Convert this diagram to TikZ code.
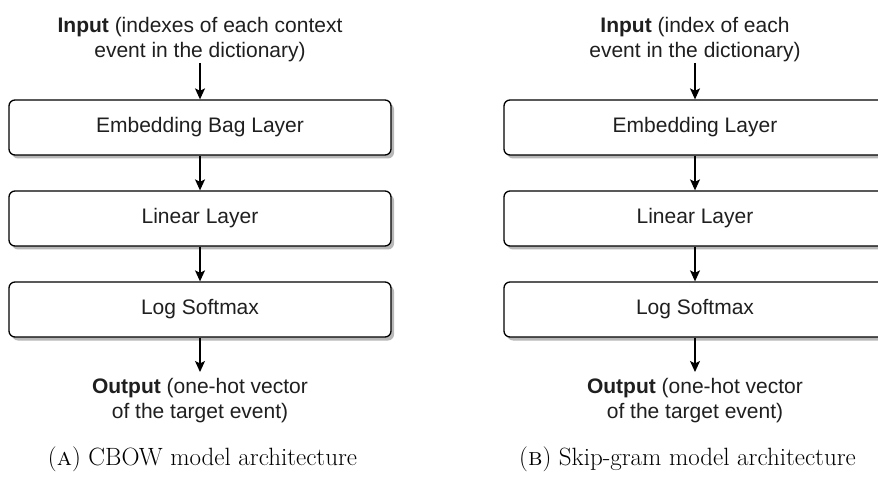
\documentclass[tikz,border=0pt]{standalone}
\usepackage{fontspec}
\newfontfamily\diagfont{Liberation Sans}
\usetikzlibrary{arrows.meta,shadows}

\tikzset{
  layerbox/.style={draw=black, line width=1.3pt, rounded corners=6pt, fill=white,
    minimum width=382pt, minimum height=55pt, inner sep=0pt,
    font=\diagfont\fontsize{21}{25}\selectfont, text=black!88,
    drop shadow={shadow xshift=3pt, shadow yshift=-3.5pt, fill=black!28, opacity=1}},
  iotext/.style={align=center, inner sep=0pt, text=black!88,
    font=\diagfont\fontsize{21}{25}\selectfont},
  flow/.style={draw=black, line width=1.3pt,
    -{Stealth[length=11pt, width=10pt, inset=2.5pt]}},
  caption/.style={inner sep=0pt, anchor=base, font=\fontsize{25}{30}\selectfont}
}

\begin{document}
\begin{tikzpicture}[x=1pt, y=-1pt]
\clip (0,0) rectangle (878,478);
\fill[white] (0,0) rectangle (878,478);

% CBOW network
\node[iotext, anchor=north] (inA) at (200,17)
  {\textbf{Input} (indexes of each context\\event in the dictionary)};
\node[layerbox] (embA) at (200,127.5) {Embedding Bag Layer};
\node[layerbox] (linA) at (200,218.5) {Linear Layer};
\node[layerbox] (smA)  at (200,309.5) {Log Softmax};
\node[iotext, anchor=north] (outA) at (200,378)
  {\textbf{Output} (one-hot vector\\of the target event)};
\draw[flow] (inA.south) ++(0,1) -- (embA.north);
\draw[flow] (embA) -- (linA);
\draw[flow] (linA) -- (smA);
\draw[flow, shorten >=6pt] (smA) -- (outA);
\node[caption] (capA) at (202.5,465) {(\textsc{a}) CBOW model architecture};

% Skip-gram network
\node[iotext, anchor=north] (inB) at (695,17)
  {\textbf{Input} (index of each\\event in the dictionary)};
\node[layerbox] (embB) at (695,127.5) {Embedding Layer};
\node[layerbox] (linB) at (695,218.5) {Linear Layer};
\node[layerbox] (smB)  at (695,309.5) {Log Softmax};
\node[iotext, anchor=north] (outB) at (695,378)
  {\textbf{Output} (one-hot vector\\of the target event)};
\draw[flow] (inB.south) ++(0,1) -- (embB.north);
\draw[flow] (embB) -- (linB);
\draw[flow] (linB) -- (smB);
\draw[flow, shorten >=6pt] (smB) -- (outB);
\node[caption] (capB) at (687.5,465) {(\textsc{b}) Skip-gram model architecture};
\end{tikzpicture}
\end{document}
